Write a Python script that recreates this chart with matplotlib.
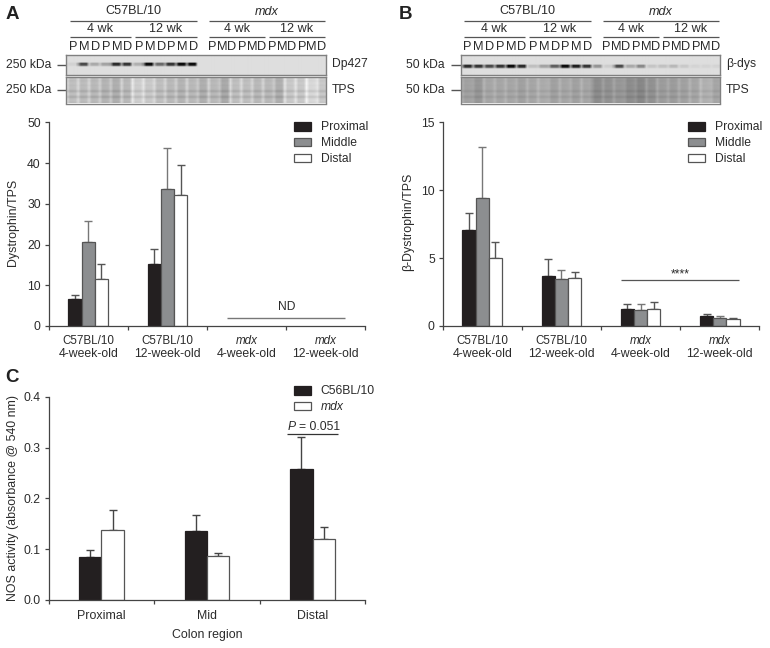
import numpy as np
import matplotlib
matplotlib.use("Agg")
import matplotlib.pyplot as plt

plt.rcParams['font.family'] = ['Liberation Sans', 'DejaVu Sans']

# bar data
regions = ["Proximal", "Middle", "Distal"]
strain_ab = ["C57BL/10", "C57BL/10", "mdx", "mdx"]
age_ab = ["4-week-old", "12-week-old", "4-week-old", "12-week-old"]

dys_mean = [[6.6, 15.2], [20.5, 33.7], [11.6, 32.1]]
dys_top = [[7.7, 18.9], [25.7, 43.6], [15.2, 39.6]]

bdys_mean = [[7.1, 3.7, 1.25, 0.7], [9.4, 3.45, 1.15, 0.6], [5.0, 3.5, 1.25, 0.5]]
bdys_top = [[8.35, 4.9, 1.6, 0.9], [13.2, 4.1, 1.6, 0.75], [6.15, 3.95, 1.75, 0.6]]

colon = ["Proximal", "Mid", "Distal"]
nos_wt = [0.085, 0.136, 0.257]
nos_wt_top = [0.098, 0.167, 0.32]
nos_mdx = [0.137, 0.086, 0.12]
nos_mdx_top = [0.178, 0.092, 0.143]

# blot band strength per lane, 0 = no band
dp427_bands = [.06, .7, .25, .28, .85, .8, .22, 1, .55, .8, 1, 1, 0, 0, 0, 0, 0, 0, 0, 0, 0, 0, 0, 0]
bdys_bands = [.85, .8, .7, .8, 1, .85, .15, .28, .6, 1, .9, .8, .35, .08, .7, .25, .4, .12, .14, .18, .1, .05, .05, .05]
# total protein stain, lane grey level
tps_a_lanes = [.76, .75, .74, .72, .70, .74, .82, .80, .76, .74, .72, .74, .70, .74, .68, .76, .76, .74, .74, .70, .80, .80, .86, .80]
tps_b_lanes = [.64, .60, .66, .66, .66, .64, .66, .68, .64, .66, .64, .66, .56, .58, .60, .56, .54, .58, .62, .62, .64, .66, .70, .66]

TEXT = "#2b2b2b"
AX = "#444444"
BLACK = "#231f20"
GRAY = "#8c8e90"
W, H = 770, 648
FS = 8.7

fig = plt.figure(figsize=(W / 100, H / 100), dpi=100)


def px_axes(x0, y0, x1, y1):
    # axes from pixel box, y counted from top of the image
    return fig.add_axes([x0 / W, 1 - y1 / H, (x1 - x0) / W, (y1 - y0) / H])


over = px_axes(0, 0, W, H)
over.set_xlim(0, W)
over.set_ylim(H, 0)
over.axis("off")


def hline(x0, x1, y, color="#555555", lw=0.9):
    over.plot([x0, x1], [y, y], color=color, lw=lw, solid_capstyle="butt")


def style_axes(ax, ymax, yticks, n):
    for s in ["top", "right"]:
        ax.spines[s].set_visible(False)
    for s in ["left", "bottom"]:
        ax.spines[s].set_color(AX)
        ax.spines[s].set_linewidth(0.9)
    ax.set_xlim(0, n)
    ax.set_ylim(0, ymax)
    ax.set_yticks(yticks)
    ax.set_xticks(range(n + 1))
    ax.set_xticklabels([])
    ax.tick_params(axis="both", length=3.2, width=0.9, color=AX, labelcolor=TEXT, labelsize=FS, pad=2.5)
    ax.patch.set_alpha(0)


def two_line_labels(ax):
    for i in range(4):
        trans = ax.get_xaxis_transform()
        style = "italic" if strain_ab[i] == "mdx" else "normal"
        ax.annotate(strain_ab[i], (i + 0.5, 0), xycoords=trans, xytext=(0, -10.6), textcoords="offset points",
                    ha="center", va="center", fontsize=FS - 0.3, style=style, color=TEXT)
        ax.annotate(age_ab[i], (i + 0.5, 0), xycoords=trans, xytext=(0, -20.4), textcoords="offset points",
                    ha="center", va="center", fontsize=FS + 0.1, color=TEXT)


def err(ax, x, y, top, color):
    ax.errorbar(x, y, yerr=[[0], [top - y]], color=color, lw=1.0, capsize=3, capthick=1.0, zorder=1)


def triple_bars(ax, means, tops, width):
    cols = [BLACK, GRAY, "white"]
    edges = [BLACK, "#555555", "#555555"]
    ecols = ["#555555", "#777777", "#555555"]
    for k in range(3):
        for i, (m, t) in enumerate(zip(means[k], tops[k])):
            x = i + 0.5 + (k - 1) * width
            err(ax, x, m, t, ecols[k])
            ax.bar(x, m, width, color=cols[k], edgecolor=edges[k], lw=0.9, zorder=2,
                   label=regions[k] if i == 0 else None)


def legend(ax, x, y):
    h, l = ax.get_legend_handles_labels()
    ax.legend(h, l, loc="upper left", bbox_to_anchor=(x, y), bbox_transform=over.transData, frameon=False,
              fontsize=FS, handlelength=1.42, handleheight=0.72, labelspacing=0.32, handletextpad=0.8,
              borderpad=0, borderaxespad=0, labelcolor=TEXT)


def show_blot(img, x0, y0, x1, y1):
    ax = px_axes(x0, y0, x1, y1)
    ax.imshow(img, cmap="gray", vmin=0, vmax=1, aspect="auto", interpolation="bilinear")
    ax.set_xticks([])
    ax.set_yticks([])
    for s in ax.spines.values():
        s.set_color("#808080")
        s.set_linewidth(1.0)


def blot_signal(bands, x0, y0, x1, y1, shift=0, bg=.87):
    # dark band in each of 24 lanes, on a pale membrane
    rows = np.array([0, 0, 0, 0, 0, 0, 0, .4, 1, 1, .75, .2, 0, 0, 0, 0, 0, 0, 0, 0])
    lane = np.array([.4, 1, 1, 1])
    cols = np.concatenate([lane * b for b in bands])
    show_blot(bg - np.outer(np.roll(rows, shift), cols) * 0.82, x0, y0, x1, y1)


def blot_tps(lanes, x0, y0, x1, y1, band=.1, gap=.11):
    # lanes of stain with pale gaps between them and a few faint bands
    rows = np.array([.3, .2, .1, .1, .3, .2, .1, .1, .2, .3, .1, .2, .2, .5, 1, .6, .2, .1, .3, .8, .9, .4, .2, .1, .2, .3])
    cols = np.concatenate([[v + gap, v, v, v + .01] for v in lanes])
    img = np.tile(cols, (len(rows), 1)) - np.outer(rows, np.ones(len(cols))) * band
    show_blot(img, x0, y0, x1, y1)


def blot_header(x0):
    # x0 is the left end of the first bracket
    hline(x0, x0 + 127, 20.7)
    hline(x0 + 139, x0 + 255, 20.7)
    over.text(x0 + 63.5, 11.5, "C57BL/10", ha="center", va="center", fontsize=FS + 0.4, color=TEXT)
    over.text(x0 + 197, 12, "mdx", ha="center", va="center", fontsize=FS + 0.4, style="italic", color=TEXT)
    for a, b, t in [(0, 61, "4 wk"), (65.5, 127, "12 wk"), (139, 195, "4 wk"), (199, 255, "12 wk")]:
        hline(x0 + a, x0 + b, 37.3)
        over.text(x0 + (a + b) / 2, 29.3, t, ha="center", va="center", fontsize=FS + 0.4, color=TEXT)
    xs = [3.2, 14.5, 25.8, 36.5, 47.8, 58.5, 69.2, 80.5, 91.8, 101.8, 113.2, 123.8,
          142.5, 152.5, 162.4, 172.4, 182.4, 192.3, 202.3, 212.3, 222.3, 232.2, 242.2, 252.2]
    for i, x in enumerate(xs):
        over.text(x0 + x, 46.7, "PMD"[i % 3], ha="center", va="center", fontsize=FS + 0.5, color=TEXT)


# panel labels
for t, x, y in [("A", 12, 14.5), ("B", 406, 14.5), ("C", 12.5, 378)]:
    over.text(x, y, t, ha="center", va="center", fontsize=13.5, fontweight="bold", color="#222222")

# blots, panel A
blot_header(69.5)
blot_signal(dp427_bands, 66, 55, 326.5, 75)
blot_tps(tps_a_lanes, 66, 77, 326.5, 103.5)
for y, lab in [(65, "250 kDa"), (90, "250 kDa")]:
    over.text(51, y, lab, ha="right", va="center", fontsize=FS, color=TEXT)
    hline(57, 66, y, lw=1.0)
over.text(332, 64.5, "Dp427", va="center", fontsize=FS, color=TEXT)
over.text(332, 90, "TPS", va="center", fontsize=FS, color=TEXT)

# blots, panel B
blot_header(463.5)
blot_signal(bdys_bands, 460.5, 55, 720, 75, shift=2)
blot_tps(tps_b_lanes, 460.5, 77, 720, 103.5, band=.06, gap=.06)
for y, lab in [(65, "50 kDa"), (90, "50 kDa")]:
    over.text(445, y, lab, ha="right", va="center", fontsize=FS, color=TEXT)
    hline(451, 460.5, y, lw=1.0)
over.text(726, 64.5, "\u03b2-dys", va="center", fontsize=FS, color=TEXT)
over.text(726, 90, "TPS", va="center", fontsize=FS, color=TEXT)

# panel A chart
ax_a = px_axes(48.7, 122.3, 365.3, 326)
triple_bars(ax_a, dys_mean, dys_top, 0.167)
style_axes(ax_a, 50, range(0, 51, 10), 4)
two_line_labels(ax_a)
ax_a.set_ylabel("Dystrophin/TPS", fontsize=FS + 0.2, color=TEXT, labelpad=6, y=0.51)
legend(ax_a, 294, 121.5)
hline(227, 345, 317.5, color="#777777", lw=1.0)
over.text(286.5, 306.5, "ND", ha="center", va="center", fontsize=FS, color=TEXT)

# panel B chart
ax_b = px_axes(442.7, 122.3, 759.3, 326)
triple_bars(ax_b, bdys_mean, bdys_top, 0.167)
style_axes(ax_b, 15, [0, 5, 10, 15], 4)
two_line_labels(ax_b)
ax_b.set_ylabel("\u03b2-Dystrophin/TPS", fontsize=FS + 0.2, color=TEXT, labelpad=5, y=0.51)
legend(ax_b, 688, 121.5)
hline(621, 739, 279.5, color="#555555", lw=0.9)
over.text(680.5, 274.5, "****", ha="center", va="center", fontsize=FS, color=TEXT)

# panel C chart
ax_c = px_axes(48.7, 396.7, 365.3, 600)
bw = 0.21
for i in range(3):
    err(ax_c, i + 0.5 - bw / 2, nos_wt[i], nos_wt_top[i], "#444444")
    err(ax_c, i + 0.5 + bw / 2, nos_mdx[i], nos_mdx_top[i], "#444444")
    ax_c.bar(i + 0.5 - bw / 2, nos_wt[i], bw, color=BLACK, edgecolor=BLACK, lw=0.9, zorder=2,
             label="C56BL/10" if i == 0 else None)
    ax_c.bar(i + 0.5 + bw / 2, nos_mdx[i], bw, color="white", edgecolor="#555555", lw=0.9, zorder=2,
             label="mdx" if i == 0 else None)
style_axes(ax_c, 0.4, [0, 0.1, 0.2, 0.3, 0.4], 3)
ax_c.set_yticklabels(["0.0", "0.1", "0.2", "0.3", "0.4"])
ax_c.set_xticks([i + 0.5 for i in range(3)], colon, minor=True)
ax_c.tick_params(axis="x", which="minor", length=0, labelcolor=TEXT, labelsize=FS + 0.2, pad=7.5)
ax_c.set_ylabel("NOS activity (absorbance @ 540 nm)", fontsize=FS + 0.2, color=TEXT, labelpad=3)
ax_c.set_xlabel("Colon region", fontsize=FS + 0.2, color=TEXT, labelpad=5)
legend(ax_c, 294, 385.5)
ax_c.get_legend().get_texts()[1].set_style("italic")
hline(287, 338, 433.5, color="#333333", lw=0.9)
over.text(292, 426.5, "P", ha="center", va="center", fontsize=FS, style="italic", color=TEXT)
over.text(299, 426.5, "= 0.051", ha="left", va="center", fontsize=FS, color=TEXT)

fig.savefig("out.png", dpi=100)
